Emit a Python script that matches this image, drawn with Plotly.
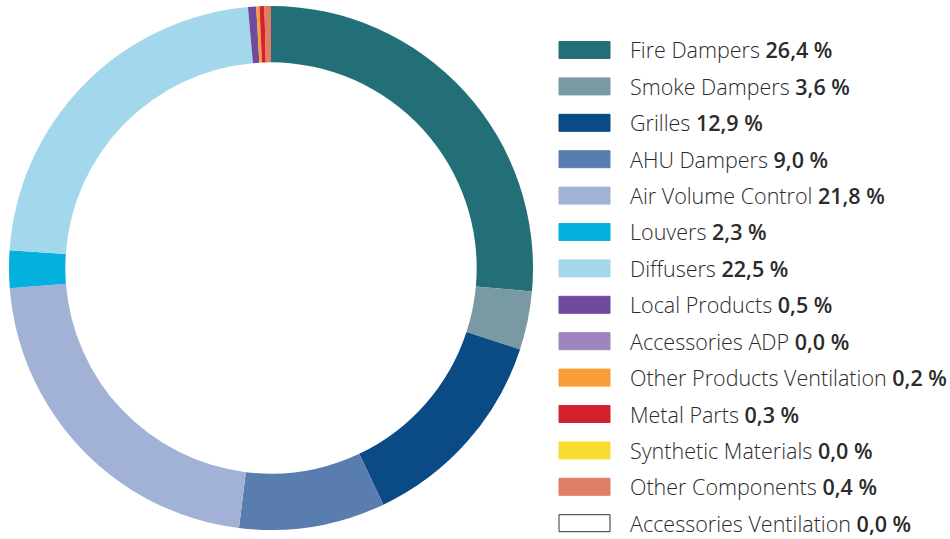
import plotly.graph_objects as go

# product groups and their share of sales (%)
labels = ["Fire Dampers", "Smoke Dampers", "Grilles", "AHU Dampers", "Air Volume Control",
          "Louvers", "Diffusers", "Local Products", "Accessories ADP",
          "Other Products Ventilation", "Metal Parts", "Synthetic Materials",
          "Other Components", "Accessories Ventilation"]
shares = [26.4, 3.6, 12.9, 9.0, 21.8, 2.3, 22.5, 0.5, 0.0, 0.2, 0.3, 0.0, 0.4, 0.0]
colors = ["#236f78", "#7a9aa3", "#0a4b85", "#5a7db0", "#a1b2d6", "#04b1dc", "#a3d8ec",
          "#714a9e", "#9e85bf", "#f89d37", "#d3222e", "#f8dd30", "#e07e64", "#ffffff"]

W, H = 950, 539

fig = go.Figure()
fig.add_trace(go.Pie(
    labels=labels,
    values=shares,
    marker=dict(colors=colors, line=dict(width=0)),
    hole=0.785,
    sort=False,
    direction="clockwise",
    rotation=0,
    textinfo="none",
    hoverinfo="label+percent",
    showlegend=False,
    domain=dict(x=[9 / W, 533 / W], y=[1 - 530 / H, 1 - 6 / H]),
))

# custom legend: wide swatches + label with semi-bold value
top, step = 50, 36.4
for i, (lab, val, col) in enumerate(zip(labels, shares, colors)):
    yc = top + i * step
    fig.add_shape(type="rect", xref="paper", yref="paper",
                  x0=559 / W, x1=610 / W,
                  y0=1 - (yc + 8.5) / H, y1=1 - (yc - 8.5) / H,
                  fillcolor=col,
                  line=dict(color="#333333" if col == "#ffffff" else col, width=1))
    num = f"{val:.1f}".replace(".", ",")
    txt = f"{lab} <span style='font-weight:600'>{num} %</span>"
    fig.add_annotation(xref="paper", yref="paper", x=628 / W, y=1 - yc / H,
                       xanchor="left", yanchor="middle", showarrow=False,
                       text=txt,
                       font=dict(size=21.5, color="#2b2b2b", family="Open Sans", weight=300))

fig.update_layout(
    width=W, height=H,
    margin=dict(l=0, r=0, t=0, b=0),
    paper_bgcolor="white",
    plot_bgcolor="white",
)

fig.write_html("out.html", config={"displayModeBar": False},
               post_script="document.body.style.margin='0px';")
